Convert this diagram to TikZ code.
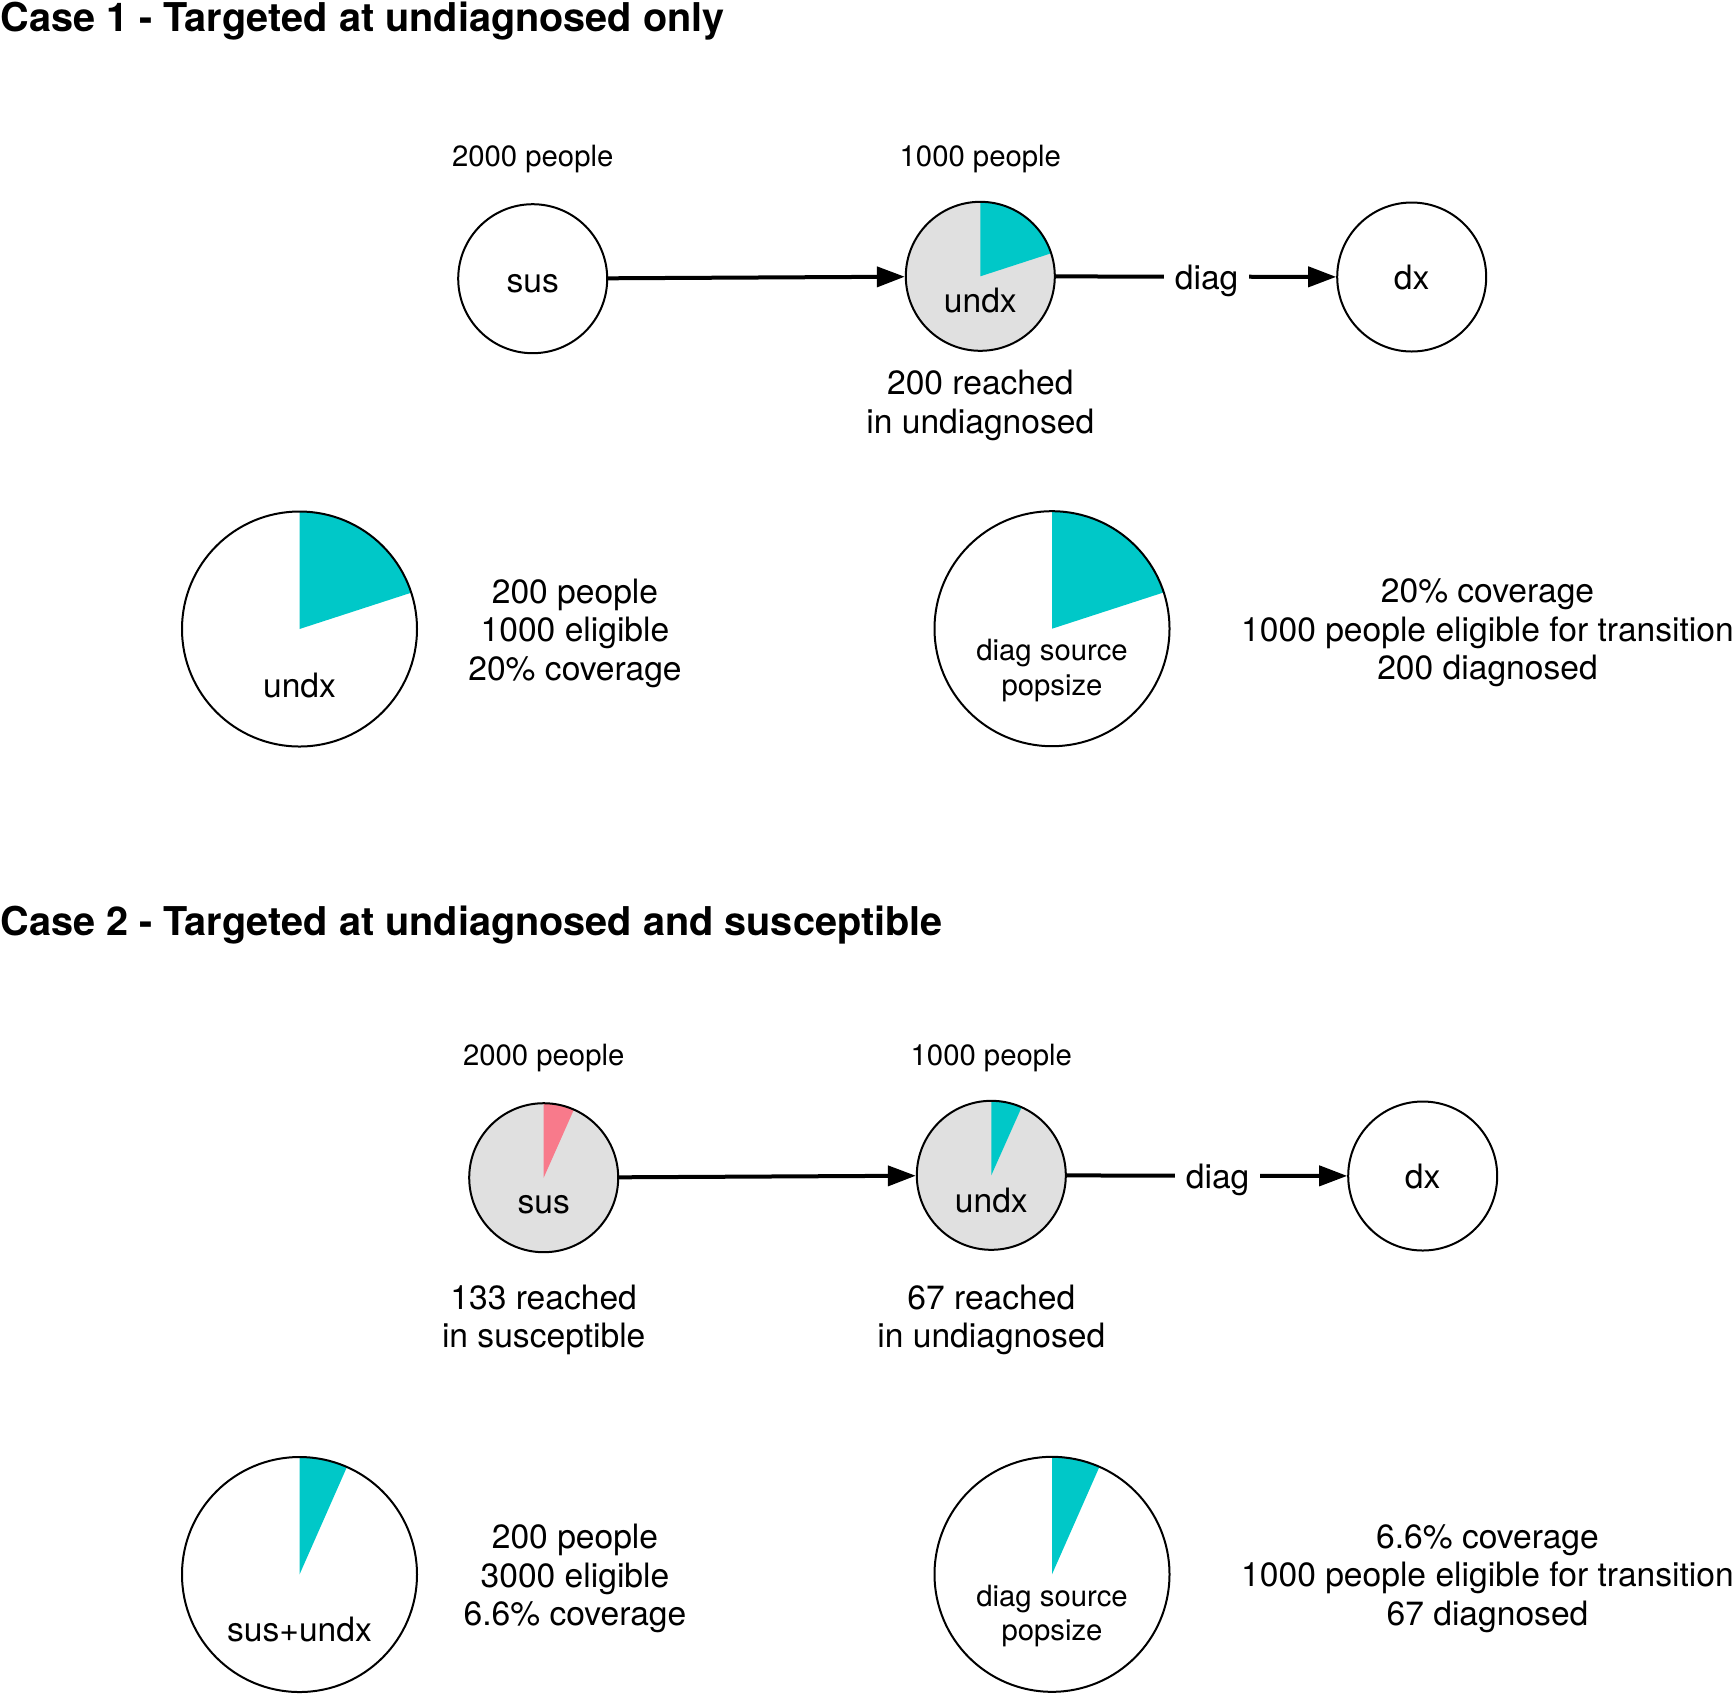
\documentclass[tikz,border=0pt]{standalone}
\usepackage{fontspec}
\setmainfont{TeX Gyre Heros}
\usetikzlibrary{arrows.meta}
\definecolor{wcyan}{HTML}{00C8C8}
\definecolor{wpink}{HTML}{F87A8B}
\definecolor{cgrey}{HTML}{E0E0E0}
\newcommand\myfbody{\fontsize{16.8pt}{19.25pt}\selectfont}
\newcommand\myfsmall{\fontsize{14.65pt}{17.25pt}\selectfont}
\newcommand\myftitle{\fontsize{19.83pt}{23pt}\selectfont\bfseries}
\begin{document}
\begin{tikzpicture}[x=0.5pt,y=-0.5pt,
  cnode/.style={circle, draw=black, line width=1pt, minimum size=74.5pt, inner sep=0pt, fill=white},
  gnode/.style={cnode, fill=cgrey},
  bpie/.style={circle, draw=black, line width=1pt, minimum size=117.5pt, inner sep=0pt, fill=white},
  wedge/.style 2 args={path picture={\fill[#1] (path picture bounding box.center) -- +(90:150pt) -- +(#2:150pt) -- cycle;}},
  lbl/.style={font=\myfbody, inner sep=0pt, anchor=base},
  slbl/.style={font=\myfsmall, inner sep=0pt, anchor=base},
  blk/.style={font=\myfbody, align=center, inner sep=0pt, anchor=north},
  sblk/.style={font=\myfsmall, align=center, inner sep=0pt, anchor=north},
  ttl/.style={font=\myftitle, inner sep=0pt, anchor=base west},
  conn/.style={draw=black, line width=2pt, -{Triangle[length=14pt,width=10pt]}},
  elbl/.style={font=\myfbody, fill=white, inner xsep=5.5pt, inner ysep=1pt, yshift=-2pt}
]
\useasboundingbox (0,0) rectangle (1734,1693);

% ---------------- Case 1 ----------------
\node[ttl] (t1) at (0,31) {Case 1 - Targeted at undiagnosed only};

\node[slbl] (p1a) at (532.7,166) {2000 people};
\node[slbl] (p1b) at (980.3,166) {1000 people};

\node[cnode] (sus1) at (532.7,278.7) {};
\node[gnode, wedge={wcyan}{18}] (undx1) at (980.3,276.3) {};
\node[cnode] (dx1) at (1411.7,277) {};

\node[lbl] (sus1t) at (532.7,292) {sus};
\node[lbl] (undx1t) at (980.3,312.5) {undx};
\node[lbl] (dx1t) at (1411.7,289) {dx};

\draw[conn] (sus1) -- (undx1);
\draw[conn] (undx1) -- node[elbl, pos=0.538] (dg1) {diag} (dx1);

\node[blk] (r1) at (980.3,369.8) {200 reached\\in undiagnosed};

\node[bpie, wedge={wcyan}{18}] (pie1) at (299.5,629) {};
\node[lbl] (pie1t) at (299.5,697) {undx};
\node[blk] (txt1) at (575,578.5) {200 people\\1000 eligible\\20\% coverage};

\node[bpie, wedge={wcyan}{18}] (pie2) at (1052,628.7) {};
\node[sblk] (pie2t) at (1052,638.9) {diag source\\popsize};
\node[blk] (txt2) at (1487.5,578.5) {20\% coverage\\1000 people eligible for transition\\200 diagnosed};

% ---------------- Case 2 ----------------
\node[ttl] (t2) at (0,935) {Case 2 - Targeted at undiagnosed and susceptible};

\node[slbl] (p2a) at (543.7,1065) {2000 people};
\node[slbl] (p2b) at (991.3,1065) {1000 people};

\node[gnode, wedge={wpink}{66.1}] (sus2) at (543.7,1177.7) {};
\node[gnode, wedge={wcyan}{66}] (undx2) at (991.3,1175.3) {};
\node[cnode] (dx2) at (1422.7,1176) {};

\node[lbl] (sus2t) at (543.7,1213) {sus};
\node[lbl] (undx2t) at (991.3,1212) {undx};
\node[lbl] (dx2t) at (1422.7,1188) {dx};

\draw[conn] (sus2) -- (undx2);
\draw[conn] (undx2) -- node[elbl, pos=0.538] (dg2) {diag} (dx2);

\node[blk] (r2a) at (543.7,1284.4) {133 reached\\in susceptible};
\node[blk] (r2b) at (991.3,1284.4) {67 reached\\in undiagnosed};

\node[bpie, wedge={wcyan}{66.2}] (pie3) at (299.5,1574.5) {};
\node[lbl] (pie3t) at (299.5,1641.5) {sus+undx};
\node[blk] (txt3) at (575,1524) {200 people\\3000 eligible\\6.6\% coverage};

\node[bpie, wedge={wcyan}{66.2}] (pie4) at (1052,1574.3) {};
\node[sblk] (pie4t) at (1052,1584.4) {diag source\\popsize};
\node[blk] (txt4) at (1487.5,1524) {6.6\% coverage\\1000 people eligible for transition\\67 diagnosed};
\end{tikzpicture}
\end{document}
